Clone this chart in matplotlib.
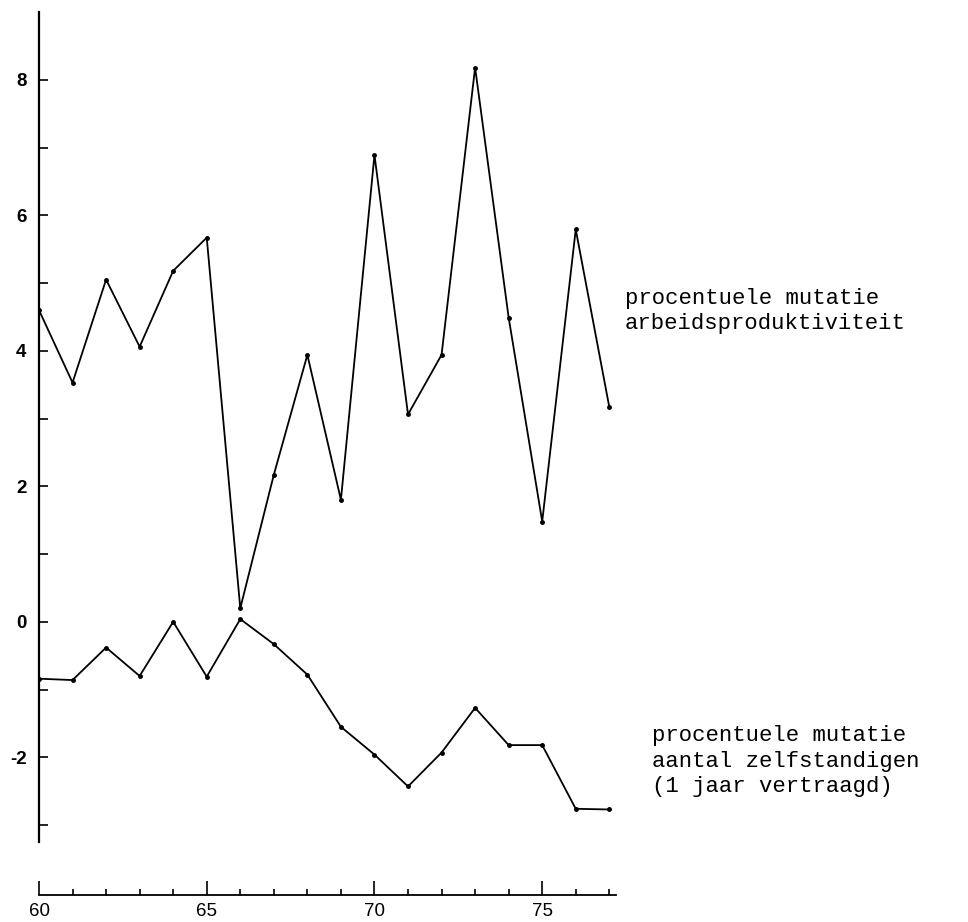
import matplotlib.pyplot as plt
from matplotlib.ticker import FixedLocator, NullFormatter

# jaren (19xx)
years = [60, 61, 62, 63, 64, 65, 66, 67, 68, 69, 70, 71, 72, 73, 74, 75, 76, 77]

# procentuele mutatie arbeidsproduktiviteit
productiviteit = [4.6, 3.53, 5.05, 4.06, 5.18, 5.67, 0.2, 2.17, 3.94, 1.8,
                  6.89, 3.06, 3.94, 8.18, 4.49, 1.48, 5.79, 3.17]

# procentuele mutatie aantal zelfstandigen (1 jaar vertraagd)
zelfstandigen = [-0.84, -0.86, -0.38, -0.8, 0.0, -0.81, 0.04, -0.33, -0.78, -1.55,
                 -1.96, -2.43, -1.93, -1.27, -1.82, -1.82, -2.76, -2.77]

y_major = [-2, 0, 2, 4, 6, 8]
y_minor = [-3, -1, 1, 3, 5, 7]
x_major = [60, 65, 70, 75]
x_labels = ['60', '65', '70', '75']

label_top = 'procentuele mutatie\narbeidsproduktiviteit'
label_bottom = 'procentuele mutatie\naantal zelfstandigen\n(1 jaar vertraagd)'

W, H = 968, 922
fig = plt.figure(figsize=(W / 100, H / 100), dpi=100)
ax = fig.add_axes([39 / W, 80 / H, (616 - 39) / W, 830 / H])

ax.plot(years, productiviteit, color='black', lw=1.3, marker='o', ms=2.5)
ax.plot(years, zelfstandigen, color='black', lw=1.3, marker='o', ms=2.5)

ax.set_xlim(60, 77.2)
ax.set_ylim(-3.25, 9.0)

for side in ['top', 'right']:
    ax.spines[side].set_visible(False)
ax.spines['left'].set_linewidth(1.6)
# losse x-as, ca. 53 px onder de y-as
ax.spines['bottom'].set_position(('outward', 53 * 0.72))
ax.spines['bottom'].set_bounds(60, 77.2)
ax.spines['bottom'].set_linewidth(1.3)

ax.yaxis.set_major_locator(FixedLocator(y_major))
ax.yaxis.set_minor_locator(FixedLocator(y_minor))
ax.yaxis.set_minor_formatter(NullFormatter())
ax.set_yticklabels(['-2', '0', '2', '4', '6', '8'])
ax.tick_params(axis='y', which='both', direction='in', length=6.5, width=1.2,
               pad=9, labelsize=13.5)
for t in ax.get_yticklabels():
    t.set_fontfamily('Liberation Sans')
    t.set_fontweight('bold')

ax.xaxis.set_major_locator(FixedLocator(x_major))
ax.xaxis.set_minor_locator(FixedLocator(years))
ax.xaxis.set_minor_formatter(NullFormatter())
ax.set_xticklabels(x_labels)
ax.tick_params(axis='x', which='major', direction='in', length=10, width=1.2,
               pad=6, labelsize=13.5)
ax.tick_params(axis='x', which='minor', direction='in', length=4, width=1.2)
for t in ax.get_xticklabels():
    t.set_fontfamily('Liberation Sans')

fig.text(625 / W, 1 - 311 / H, label_top, family='Liberation Mono',
         fontsize=16, va='center', ha='left', linespacing=1.3)
fig.text(652 / W, 1 - 761 / H, label_bottom, family='Liberation Mono',
         fontsize=16, va='center', ha='left', linespacing=1.3)

fig.savefig('out.png', dpi=100)
